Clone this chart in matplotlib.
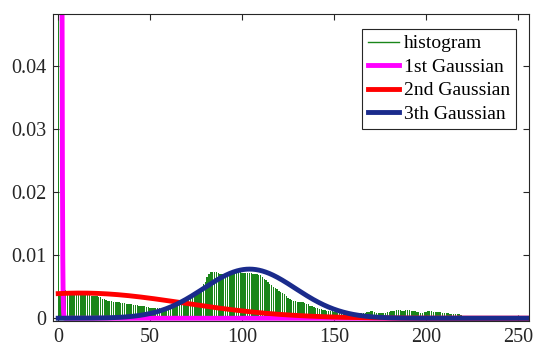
import numpy as np
import matplotlib
matplotlib.use("Agg")
import matplotlib.pyplot as plt
from matplotlib.lines import Line2D

plt.rcParams['font.family'] = ['Liberation Serif', 'DejaVu Serif']

# histogram heights per grey level (in units of 1e-4)
hist_e4 = ([600, 40, 42, 44, 45, 44] +
           [40, 39, 38, 38, 38, 37, 37, 37, 37, 37, 37, 37, 36, 36, 36] +
           [35, 34, 33, 31, 30] +
           [29, 28, 27, 27, 26, 26, 25, 25, 24, 24] +
           [24, 23, 23, 22, 22, 21, 21, 21, 20, 20, 19, 19, 18, 18, 17] +
           [17, 16, 16, 16, 16, 16, 17, 17, 17, 18, 18, 18, 19, 19, 20] +
           [21, 22, 24, 26, 28, 30, 33, 36, 39, 41, 44, 47, 50, 54, 58] +
           [66, 71, 73, 74, 73, 73, 72, 71, 70, 70] +
           [70, 70, 71, 71, 72, 72, 73, 73, 73, 72, 72, 72, 72, 72, 72] +
           [71, 71, 70, 69, 68, 66, 63, 60, 57, 54] +
           [52, 50, 48, 46, 44, 42, 40, 38, 35, 32, 30, 29, 28, 27, 26] +
           [26, 25, 25, 24, 23, 22, 20, 19, 18, 17, 16, 15, 14, 13, 13] +
           [12, 12, 11, 11, 10, 10, 9, 9, 8, 8, 8, 8, 8, 7, 7] +
           [7, 7, 8, 8, 8, 9, 9, 10, 10, 11, 11, 10, 9, 9, 8] +
           [8, 8, 9, 10, 10, 11, 12, 12, 13, 13, 13, 12, 12, 13, 13] +
           [13, 12, 12, 11, 10, 10, 9, 9, 10, 10, 11, 11, 11, 10, 10] +
           [10, 10, 10, 9, 9, 8, 8, 7, 7, 6, 6, 6, 6, 5, 4, 3, 2])
hist_e4 = hist_e4 + [0] * (256 - len(hist_e4))
levels = np.arange(256)
hist = np.array(hist_e4) * 1e-4

# fitted gaussian components: (peak height, mean, sigma)
g1 = (0.5, 0.8, 0.6)
g2 = (0.0040, 12.0, 56.0)
g3 = (0.0078, 104.0, 25.0)
labels = ['histogram', '1st Gaussian', '2nd Gaussian', '3th Gaussian']
colors = ['#1a861a', '#FF00FF', '#FF0000', '#1A2B8C']

xs = np.linspace(0, 255, 4000)
def curve(p):
    a, m, s = p
    return a * np.exp(-(xs - m) ** 2 / (2 * s ** 2))

fig = plt.figure(figsize=(5.36, 3.49), dpi=100)
ax = fig.add_axes([0.099, 0.080, 0.888, 0.880])

ax.bar(levels, hist, width=0.75, color=colors[0], linewidth=0)
l1, = ax.plot(xs, curve(g1), color=colors[1], lw=3.5)
l2, = ax.plot(xs, curve(g2), color=colors[2], lw=3.5)
l3, = ax.plot(xs, curve(g3), color=colors[3], lw=3.5)
h0 = Line2D([], [], color=colors[0], lw=1)

ax.set_xlim(-2.8, 256)
ax.set_ylim(-0.00045, 0.0483)
ax.set_xticks([0, 50, 100, 150, 200, 250])
ax.set_yticks([0, 0.01, 0.02, 0.03, 0.04])
ax.set_yticklabels(['0', '0.01', '0.02', '0.03', '0.04'])
ax.tick_params(direction='in', length=4, width=0.8, top=True, right=True,
               labelsize=14.5, colors='#262626', pad=5)
for sp in ax.spines.values():
    sp.set_color('#262626')
    sp.set_linewidth(0.8)

leg = ax.legend([h0, l1, l2, l3], labels, loc='upper right',
                bbox_to_anchor=(0.973, 0.951), borderaxespad=0,
                fontsize=14, frameon=True, fancybox=False, framealpha=1,
                edgecolor='#262626', labelspacing=0.3, handlelength=1.6,
                handletextpad=0.25, borderpad=0.3)
leg.get_frame().set_linewidth(0.8)

fig.savefig('out.png', dpi=100)
